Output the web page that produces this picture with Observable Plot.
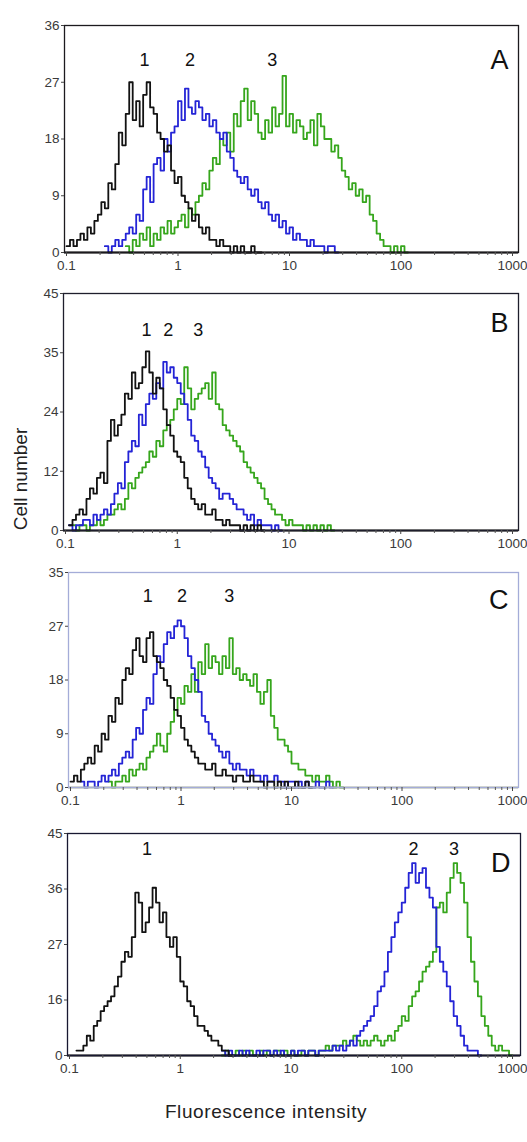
<!DOCTYPE html>
<html>
<head>
<meta charset="utf-8">
<script src="https://cdn.jsdelivr.net/npm/d3@7"></script>
<script src="https://cdn.jsdelivr.net/npm/@observablehq/plot@0.6"></script>
<style>
  html, body { margin: 0; padding: 0; background: #fff; }
  #wrap { position: relative; width: 527px; height: 1142px; overflow: hidden; font-family: "Liberation Sans", Arial, sans-serif; }
  .panel { position: absolute; left: 0; }
  .ylab { position: absolute; left: 21px; top: 479px; transform: translate(-50%, -50%) rotate(-90deg); font-size: 19px; color: #222; white-space: nowrap; }
  .xlab { position: absolute; left: 266px; top: 1112px; transform: translate(-50%, -50%); font-size: 19px; letter-spacing: 0.6px; color: #222; white-space: nowrap; }
</style>
</head>
<body>
<div id="wrap">
  <div class="ylab">Cell number</div>
  <div class="xlab">Fluorescence intensity</div>
</div>
<script>
// ---------- shared axis definitions ----------
const binsPerDecade = 32;           // histogram channels per decade (log scale starting at 0.1)
const xTicks = [0.1, 1, 10, 100, 1000];
const xTickLabels = ["0.1", "1", "10", "100", "1000"];
const xMinorTicks = [0.2,0.3,0.4,0.5,0.6,0.7,0.8,0.9, 2,3,4,5,6,7,8,9, 20,30,40,50,60,70,80,90, 200,300,400,500,600,700,800,900];
const seriesNames = ["1", "2", "3"];

// ---------- Panel A ----------
const aYMax = 36;
const aYLabels = ["0", "9", "18", "27", "36"];
const aBlackStart = 0;
const aBlack = [1,2,1,2,3,2,4,3,5,6, 8,7,11,10,14,19,17,22,27,21, 24,20,25,27,23,22,19,18,16,17, 13,11,12,9,8,7,5,6,4,3, 4,2,2,1,2,1,1,0,1,0, 1,0,0,1,0,0];
const aBlueStart = 11;
const aBlue = [1,0,1,2,1,2,3,4,3,6, 5,10,12,8,14,15,13,18,16,19, 20,24,21,26,23,22,24,23,21,22, 20,21,19,18,19,16,15,13,12,11, 12,10,9,10,8,7,8,6,5,6, 4,5,3,4,2,3,2,2,1,2, 1,1,1,0,1,1,0];
const aGreenStart = 17;
const aGreen = [1,0,2,1,3,2,4,1,3,2, 4,3,5,3,4,5,6,4,7,6, 8,9,11,10,13,15,14,18,17,19, 16,22,20,24,26,21,24,22,19,18, 21,19,23,20,22,28,20,22,19,21, 20,18,19,21,17,22,20,18,18,16, 17,15,13,12,10,11,9,10,8,9, 6,5,3,2,1,1,0,1,0,1,0];
const aPeakX = [0.5, 1.28, 7.0];
const aPeakY = [30.5, 30.5, 30.5];

// ---------- Panel B ----------
const bYMax = 45;
const bYLabels = ["0", "12", "24", "35", "45"];
const bBlackStart = 1;
const bBlack = [1,2,3,4,3,6,8,7,10,11, 9,17,21,18,20,22,26,25,30,27, 28,31,34,30,26,29,27,23,20,18, 15,14,13,10,8,6,5,4,5,3, 3,4,2,2,1,2,1,1,1,0, 1,0,1,0,1,0];
const bBlueStart = 1;
const bBlue = [1,0,1,1,2,2,1,3,2,3, 4,3,5,7,9,8,13,15,17,16, 22,20,24,26,25,28,27,32,30,31, 29,28,26,24,21,18,17,15,14,12, 10,9,8,6,7,7,6,5,4,4, 3,2,3,1,2,1,1,1,0,1,0];
const bGreenStart = 2;
const bGreen = [1,0,1,1,0,1,1,2,1,2, 3,3,4,5,4,6,9,8,10,11, 12,13,15,14,17,16,19,20,21,23, 25,24,31,27,23,25,26,27,28,25, 30,24,23,20,19,18,17,16,15,13, 12,11,10,9,8,6,5,4,3,3, 2,1,2,1,1,1,0,1,0,1,0,1,0,1,0];
const bPeakX = [0.53, 0.83, 1.54];
const bPeakY = [38, 38, 38];

// ---------- Panel C ----------
const cYMax = 36;
const cYLabels = ["0", "9", "18", "27", "35"];
const cBlackStart = 0;
const cBlack = [1,2,1,3,4,5,4,7,6,9, 8,12,11,15,14,18,20,19,23,25, 22,21,25,26,22,21,20,18,17,15, 13,12,10,8,7,6,5,4,4,3, 3,4,2,2,3,2,2,1,2,2, 1,1,2,1,1,1,0,1,1,0, 1,0,1,0,0,1,0,0,1,0];
const cBlueStart = 3;
const cBlue = [1,0,1,1,0,1,2,1,2,3, 2,4,5,6,5,8,10,9,13,15, 14,19,22,21,24,26,25,27,28,27, 25,22,20,18,16,12,11,9,8,7, 6,5,6,4,3,4,3,3,2,3, 2,2,1,2,1,1,2,1,1,0, 1,1,0,1,0,1,0,0,1,0,0,1,0];
const cGreenStart = 11;
const cGreen = [1,0,1,1,2,1,3,2,3,4, 3,5,6,7,9,7,6,9,11,13, 15,14,17,16,19,16,21,19,24,20, 22,21,19,22,20,25,19,20,18,19, 18,17,19,16,14,16,18,12,10,8, 8,7,6,4,4,3,3,2,2,1, 2,1,1,2,1,0,1,0];
const cPeakX = [0.5, 1.02, 2.74];
const cPeakY = [32, 32, 32];

// ---------- Panel D ----------
const dYMax = 45;
const dYLabels = ["0", "16", "27", "36", "45"];
const dBlackStart = 2;
const dBlack = [1,1,2,4,3,6,7,9,10,11, 12,14,16,19,21,20,24,33,31,25, 27,30,34,31,27,29,24,22,24,20, 15,14,11,10,8,6,6,5,4,3, 3,2,1,1,0];
const dBlueStart = 44;
const dBlue = [1,0,1,0,0,1,0,1,0,0, 1,0,1,1,0,1,0,1,0,0, 1,0,1,1,0,1,1,0,1,1, 1, 1,2,1,2,1,2,3,2,4,5, 6,7,8,10,13,14,17,21,24,27, 29,31,34,37,39,35,37,38,34,32, 30,22,19,17,14,11,8,6,4,2, 1,1,1,0];
const dGreenStart = 44;
const dGreen = [0,1,0,0,1,0,1,0,1,0, 0,1,0,1,0,1,1,0,1,0, 1,0,0,1,0,1,1,0,1,1, 2,1,2,2, 2,3,2,3,4,3,2,3,2,3, 4,3,2,3,4,3,5,6,8,7, 10,12,13,15,17,18,19,21,30,31, 29,33,36,39,37,35,31,24,19,15, 12,8,6,4,2,1,2,1,1,0];
const dPeakX = [0.5, 128, 297];
const dPeakY = [41.8, 41.8, 41.8];

// ---------- rendering ----------
const colors = { black: "#121212", blue: "#2424d6", green: "#36a61c" };

function series(start, counts, name) {
  const pts = counts.map((c, i) => ({ x: 0.1 * Math.pow(10, (start + i) / binsPerDecade), y: c, s: name }));
  pts.push({ x: 0.1 * Math.pow(10, (start + counts.length) / binsPerDecade), y: counts[counts.length - 1], s: name });
  return pts;
}

const panels = [
  { letter: "A", top: 0,   height: 282, ml: 64, mr: 9, ymax: aYMax, ylabels: aYLabels, frame: "#1c1a1e", base: "#000", letterDy: 35,
    data: [[aGreenStart, aGreen, "green"], [aBlueStart, aBlue, "blue"], [aBlackStart, aBlack, "black"]], px: aPeakX, py: aPeakY },
  { letter: "B", top: 268, height: 292, ml: 63, mr: 9, ymax: bYMax, ylabels: bYLabels, frame: "#1e1e2c", base: "#000", letterDy: 30,
    data: [[bGreenStart, bGreen, "green"], [bBlueStart, bBlue, "blue"], [bBlackStart, bBlack, "black"]], px: bPeakX, py: bPeakY },
  { letter: "C", top: 547, height: 270, ml: 68, mr: 9, ymax: cYMax, ylabels: cYLabels, frame: "#a4acd8", base: "#b4b8a4", letterDy: 28,
    data: [[cGreenStart, cGreen, "green"], [cBlueStart, cBlue, "blue"], [cBlackStart, cBlack, "black"]], px: cPeakX, py: cPeakY },
  { letter: "D", top: 808, height: 277, ml: 67, mr: 7, ymax: dYMax, ylabels: dYLabels, frame: "#181830", base: "#000", letterDy: 30,
    data: [[dGreenStart, dGreen, "green"], [dBlueStart, dBlue, "blue"], [dBlackStart, dBlack, "black"]], px: dPeakX, py: dPeakY }
];

const wrap = document.getElementById("wrap");

for (const p of panels) {
  const yTicks = p.ylabels.map((_, i) => p.ymax * i / (p.ylabels.length - 1));
  const lines = p.data.map(([start, counts, col]) =>
    Plot.line(series(start, counts, col), { x: "x", y: "y", curve: "step-after", stroke: colors[col], strokeWidth: 1.8 })
  );
  const peakLabels = seriesNames.map((t, i) => ({ x: p.px[i], y: p.py[i], t }));
  const chart = Plot.plot({
    width: 527,
    height: p.height,
    marginTop: 25,
    marginBottom: 30,
    marginLeft: p.ml,
    marginRight: p.mr,
    style: { background: "transparent", overflow: "visible", fontFamily: "Liberation Sans, Arial, sans-serif", color: "#3a3a3a" },
    x: { type: "log", domain: [0.1, 1000], range: [p.ml + 2, 512], label: null },
    y: { domain: [0, p.ymax], label: null },
    marks: [
      ...lines,
      Plot.ruleY([0], { stroke: p.base, strokeWidth: 2 }),
      Plot.frame({ stroke: p.frame, strokeWidth: 1.3 }),
      Plot.axisX({ ticks: xMinorTicks, tickSize: 3, tickFormat: () => "", stroke: "#555", label: null }),
      Plot.axisX({ ticks: xTicks, tickSize: 4, tickPadding: 4, fontSize: 13.5, label: null,
                   tickFormat: d => xTickLabels[xTicks.indexOf(d)], stroke: "#444" }),
      Plot.axisY({ ticks: yTicks, tickSize: 3, tickPadding: 2, fontSize: 13.5, label: null,
                   tickFormat: d => p.ylabels[yTicks.indexOf(d)], stroke: "#444" }),
      Plot.text(peakLabels, { x: "x", y: "y", text: "t", fontSize: 18, fill: "#111", lineAnchor: "middle" }),
      Plot.text([p.letter], { frameAnchor: "top-right", textAnchor: "end", lineAnchor: "middle", dx: -10, dy: p.letterDy, fontSize: 27, fill: "#111" })
    ]
  });
  const holder = document.createElement("div");
  holder.className = "panel";
  holder.style.top = p.top + "px";
  holder.appendChild(chart);
  wrap.appendChild(holder);
}
</script>
</body>
</html>
